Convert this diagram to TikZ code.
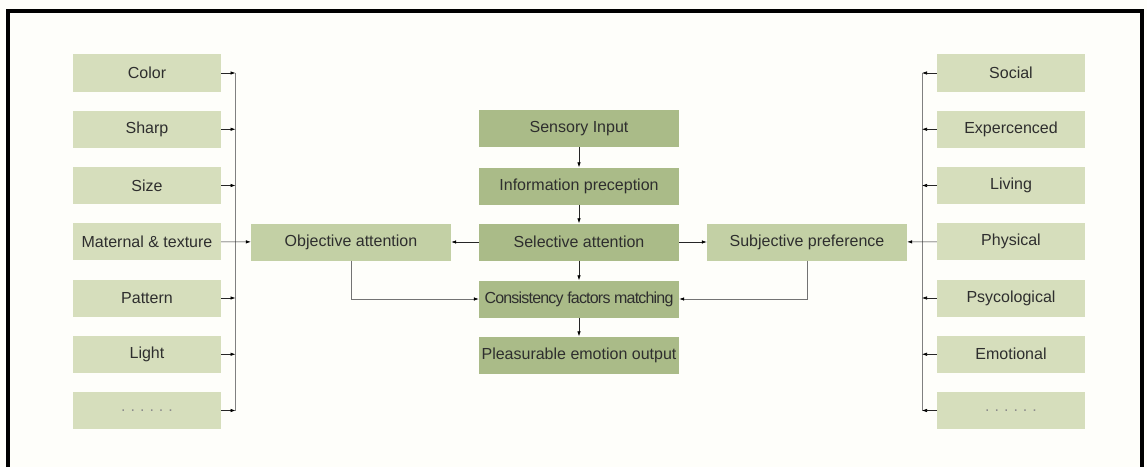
\documentclass[tikz,border=0pt]{standalone}
\usepackage{fontspec}
\setmainfont{Liberation Sans}
\usetikzlibrary{arrows.meta}

\definecolor{palegreen}{HTML}{D6DEBC}
\definecolor{midgreen}{HTML}{C3D0A5}
\definecolor{darkgreen}{HTML}{AABB88}
\definecolor{textgrey}{HTML}{2E2E2E}
\definecolor{paper}{HTML}{FEFEFA}

\begin{document}
\begin{tikzpicture}[x=1pt,y=1pt,
  box/.style={minimum height=37pt, inner sep=0pt, text=textgrey, font=\fontsize{16}{19}\selectfont},
  side/.style={box, fill=palegreen, minimum width=148pt},
  stage/.style={box, fill=darkgreen, minimum width=200pt},
  branch/.style={box, fill=midgreen, minimum width=200pt},
  arr/.style={-{Latex[length=5pt,width=3.5pt,color=black]}, line width=0.6pt, black!85},
  bus/.style={line width=0.9pt, black!50}]
\useasboundingbox (0,0) rectangle (1147,467);
\fill[paper] (0,0) rectangle (1147,467);
\draw[line width=4pt] (8,0) -- (8,456) -- (1142,456) -- (1142,0);

% objective factors
\foreach \name/\txt [count=\i from 0] in {color/Color, sharp/Sharp, size/Size,
    material/Maternal \& texture, pattern/Pattern, light/Light,
    moreL/{\color{black!45}.\hspace{5pt}.\hspace{5pt}.\hspace{5pt}.\hspace{5pt}.\hspace{5pt}.}}
  \node[side] (\name) at (147,394-56.25*\i) {\txt};

% subjective factors
\foreach \name/\txt [count=\i from 0] in {social/Social, exper/Expercenced, living/Living,
    physical/Physical, psyco/Psycological, emotional/Emotional,
    moreR/{\color{black!45}.\hspace{5pt}.\hspace{5pt}.\hspace{5pt}.\hspace{5pt}.\hspace{5pt}.}}
  \node[side] (\name) at (1011,394-56.25*\i) {\txt};

% main chain
\node[stage] (sensory) at (579,338.5) {Sensory Input};
\node[stage] (info) at (579,281) {Information preception};
\node[stage] (selective) at (579,225) {Selective attention};
\node[stage] (consist) at (579,168) {\addfontfeature{LetterSpace=-5}Consistency factors matching};
\node[stage] (output) at (579,112) {Pleasurable emotion output};

\node[branch] (objective) at (351,225) {Objective attention};
\node[branch] (subjective) at (807,225) {Subjective preference};

\coordinate (busL) at (235.5,0);
\coordinate (busR) at (922,0);

% left bus
\draw[bus] (color.east -| busL) -- (moreL.east -| busL);
\foreach \name in {color, sharp, size, pattern, light, moreL}
  \draw[arr] (\name.east) -- (\name.east -| busL);
\draw[arr] (material) -- (objective);

% right bus
\draw[bus] (social.west -| busR) -- (moreR.west -| busR);
\foreach \name in {social, exper, living, psyco, emotional, moreR}
  \draw[arr] (\name.west) -- (\name.west -| busR);
\draw[arr] (physical) -- (subjective);

% chain arrows
\draw[arr] (sensory) -- (info);
\draw[arr] (info) -- (selective);
\draw[arr] (selective) -- (consist);
\draw[arr] (consist) -- (output);
\draw[arr] (selective) -- (objective);
\draw[arr] (selective) -- (subjective);
\draw[arr, black!55] (objective.south) |- (consist.west);
\draw[arr, black!55] (subjective.south) |- (consist.east);
\end{tikzpicture}
\end{document}
